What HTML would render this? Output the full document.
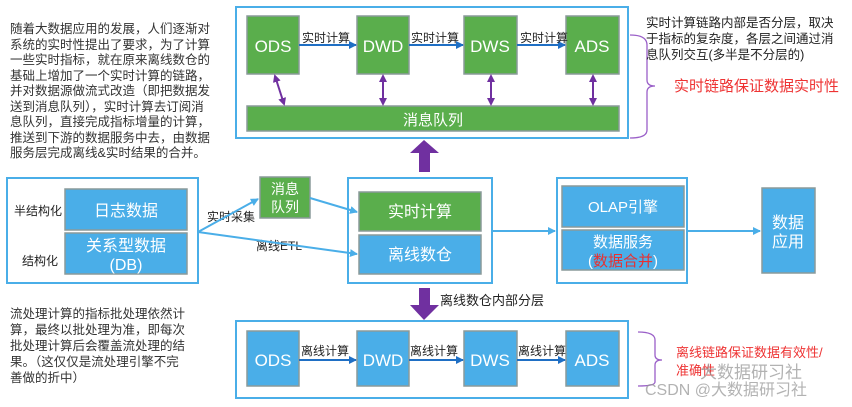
<!DOCTYPE html>
<html><head><meta charset="utf-8"><style>
body{margin:0;background:#fff;width:852px;height:407px;overflow:hidden}
svg{display:block}
text{font-family:"Liberation Sans","Noto Sans CJK SC",sans-serif}
</style></head><body>
<svg width="852" height="407" viewBox="0 0 852 407" xmlns="http://www.w3.org/2000/svg">
<defs>
<marker id="ab" markerWidth="8" markerHeight="8" refX="7" refY="4" orient="auto" markerUnits="userSpaceOnUse"><path d="M0,0 L8,4 L0,8z" fill="#1f6fc4"/></marker>
<marker id="al" markerWidth="8" markerHeight="8" refX="7" refY="4" orient="auto" markerUnits="userSpaceOnUse"><path d="M0,0 L8,4 L0,8z" fill="#4aaee8"/></marker>
<marker id="ap" markerWidth="8" markerHeight="8" refX="6" refY="4" orient="auto-start-reverse" markerUnits="userSpaceOnUse"><path d="M0,0 L8,4 L0,8z" fill="#7030a0"/></marker>
</defs>
<g font-size="12.5" fill="#333">
<text x="10" y="33">随着大数据应用的发展，人们逐渐对</text>
<text x="10" y="49">系统的实时性提出了要求，为了计算</text>
<text x="10" y="64">一些实时指标，就在原来离线数仓的</text>
<text x="10" y="80">基础上增加了一个实时计算的链路，</text>
<text x="10" y="95">并对数据源做流式改造（即把数据发</text>
<text x="10" y="111">送到消息队列），实时计算去订阅消</text>
<text x="10" y="126">息队列，直接完成指标增量的计算，</text>
<text x="10" y="142">推送到下游的数据服务中去，由数据</text>
<text x="10" y="157">服务层完成离线&amp;实时结果的合并。</text>
<text x="10" y="318">流处理计算的指标批处理依然计</text>
<text x="10" y="334">算，最终以批处理为准，即每次</text>
<text x="10" y="350">批处理计算后会覆盖流处理的结</text>
<text x="10" y="366">果。（这仅仅是流处理引擎不完</text>
<text x="10" y="382">善做的折中）</text>
</g>
<rect x="236" y="7" width="392" height="131" fill="#fff" stroke="#4aaee8" stroke-width="2"/>
<g fill="#5aae4c" stroke="#8a9a9a" stroke-width="1.5">
<rect x="247" y="16" width="52" height="58"/><rect x="357" y="16" width="52" height="58"/>
<rect x="464" y="16" width="53" height="58"/><rect x="566" y="16" width="53" height="58"/>
<rect x="247" y="106" width="372" height="25"/>
</g>
<g fill="#fff" font-size="17" text-anchor="middle">
<text x="273" y="52">ODS</text><text x="383" y="52">DWD</text><text x="490" y="52">DWS</text><text x="592" y="52">ADS</text>
<text x="433" y="125" font-size="15">消息队列</text>
</g>
<g stroke="#1f6fc4" stroke-width="2" marker-end="url(#ab)">
<line x1="299" y1="45" x2="356" y2="45"/><line x1="409" y1="45" x2="463" y2="45"/><line x1="517" y1="45" x2="565" y2="45"/>
</g>
<g font-size="12" fill="#222"><text x="302" y="42">实时计算</text><text x="411" y="42">实时计算</text><text x="520" y="42">实时计算</text></g>
<g stroke="#7030a0" stroke-width="2" marker-start="url(#ap)" marker-end="url(#ap)">
<line x1="275" y1="76" x2="284" y2="104"/><line x1="383" y1="76" x2="383" y2="104"/><line x1="491" y1="76" x2="491" y2="104"/><line x1="593" y1="76" x2="593" y2="104"/>
</g>
<path d="M630,35 Q647,35 647,45 L647,80 Q647,86 655,86 Q647,86 647,92 L647,130 Q647,138 630,138" fill="none" stroke="#9a5fc8" stroke-width="1.3"/>
<g font-size="12.5" fill="#222"><text x="646" y="27">实时计算链路内部是否分层，取决</text><text x="646" y="43">于指标的复杂度，各层之间通过消</text><text x="646" y="59">息队列交互(多半是不分层的)</text></g>
<text x="674" y="91" font-size="15" fill="#ee3333">实时链路保证数据实时性</text>
<path d="M424,140 L439,153 L430,153 L430,172 L419,172 L419,153 L410,153z" fill="#7030a0"/>
<rect x="7" y="178" width="191" height="105" fill="#fff" stroke="#4aaee8" stroke-width="2"/>
<g fill="#4aaee8" stroke="#8a9a9a" stroke-width="1.5"><rect x="65" y="189" width="122" height="41"/><rect x="65" y="233" width="122" height="41"/></g>
<g fill="#fff" text-anchor="middle" font-size="16"><text x="126" y="216">日志数据</text><text x="126" y="251">关系型数据</text><text x="126" y="270">(DB)</text></g>
<g font-size="12" fill="#222"><text x="14" y="215">半结构化</text><text x="22" y="265">结构化</text><text x="207" y="221">实时采集</text><text x="256" y="250">离线ETL</text></g>
<rect x="260" y="177" width="50" height="41" fill="#5aae4c" stroke="#8a9a9a" stroke-width="1.5"/>
<g fill="#fff" text-anchor="middle" font-size="14"><text x="285" y="194">消息</text><text x="285" y="212">队列</text></g>
<rect x="348" y="178" width="144" height="105" fill="#fff" stroke="#4aaee8" stroke-width="2"/>
<rect x="359" y="192" width="122" height="39" fill="#5aae4c" stroke="#8a9a9a" stroke-width="1.5"/>
<rect x="359" y="235" width="122" height="39" fill="#4aaee8" stroke="#8a9a9a" stroke-width="1.5"/>
<g fill="#fff" text-anchor="middle" font-size="16"><text x="420" y="217">实时计算</text><text x="420" y="260">离线数仓</text></g>
<g stroke="#4aaee8" stroke-width="2" marker-end="url(#al)" fill="none">
<line x1="198" y1="232" x2="258" y2="199"/><line x1="198" y1="232" x2="357" y2="254"/><line x1="310" y1="198" x2="357" y2="212"/>
<line x1="492" y1="231" x2="555" y2="231"/><line x1="687" y1="231" x2="760" y2="231"/>
</g>
<rect x="557" y="178" width="130" height="105" fill="#fff" stroke="#4aaee8" stroke-width="2"/>
<rect x="562" y="186" width="122" height="41" fill="#4aaee8" stroke="#8a9a9a" stroke-width="1.5"/>
<rect x="562" y="230" width="122" height="40" fill="#4aaee8" stroke="#8a9a9a" stroke-width="1.5"/>
<g fill="#fff" text-anchor="middle" font-size="15"><text x="623" y="212">OLAP引擎</text><text x="623" y="247">数据服务</text><text x="623" y="266">(<tspan fill="#e83030">数据合并</tspan>)</text></g>
<rect x="762" y="188" width="53" height="85" fill="#4aaee8" stroke="#8a9a9a" stroke-width="1.5"/>
<g fill="#fff" text-anchor="middle" font-size="16"><text x="788" y="228">数据</text><text x="788" y="247">应用</text></g>
<path d="M419,288 L430,288 L430,305 L439,305 L424,320 L410,305 L419,305z" fill="#7030a0"/>
<text x="440" y="305" font-size="13" fill="#222">离线数仓内部分层</text>
<rect x="236" y="321" width="392" height="77" fill="#fff" stroke="#4aaee8" stroke-width="2"/>
<g fill="#4aaee8" stroke="#8a9a9a" stroke-width="1.5">
<rect x="247" y="331" width="52" height="55"/><rect x="357" y="331" width="52" height="55"/>
<rect x="464" y="331" width="53" height="55"/><rect x="566" y="331" width="53" height="55"/>
</g>
<g fill="#fff" font-size="17" text-anchor="middle">
<text x="273" y="366">ODS</text><text x="383" y="366">DWD</text><text x="490" y="366">DWS</text><text x="592" y="366">ADS</text>
</g>
<g stroke="#1f6fc4" stroke-width="2" marker-end="url(#ab)">
<line x1="299" y1="360" x2="356" y2="360"/><line x1="409" y1="360" x2="463" y2="360"/><line x1="517" y1="360" x2="565" y2="360"/>
</g>
<g font-size="12" fill="#222"><text x="301" y="355">离线计算</text><text x="410" y="355">离线计算</text><text x="518" y="355">离线计算</text></g>
<path d="M638,332 Q655,332 655,340 L655,355 Q655,360 662,360 Q655,360 655,365 L655,382 Q655,386 638,386" fill="none" stroke="#9a5fc8" stroke-width="1.3"/>
<g font-size="13" fill="#ee3333"><text x="676" y="357">离线链路保证数据有效性/</text><text x="676" y="375">准确性</text></g>
<g fill="#999" opacity="0.75"><text x="700" y="378" font-size="17">大数据研习社</text>
<text x="645" y="395" font-size="16">CSDN @大数据研习社</text></g>
</svg>
</body></html>
